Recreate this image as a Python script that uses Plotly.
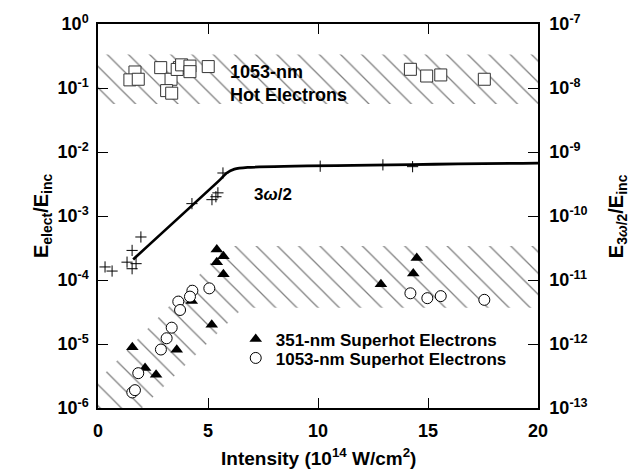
import plotly.graph_objects as go

# ---------------- data ----------------
# 1053-nm hot electrons (open squares)
hot_x = [1.68, 1.45, 1.83, 2.85, 3.32, 3.12, 3.35, 3.70, 3.60, 3.80, 4.18, 4.18, 5.01, 14.2, 14.94, 15.58, 17.56]
hot_y = [0.178, 0.134, 0.137, 0.208, 0.137, 0.091, 0.083, 0.208, 0.195, 0.23, 0.22, 0.18, 0.216, 0.196, 0.154, 0.16, 0.137]

# 3w/2 emission (plus markers)
tw_x = [0.32, 0.64, 1.32, 1.55, 1.73, 1.55, 1.95, 4.27, 5.18, 5.36, 5.45, 5.68, 10.1, 12.95, 14.3]
tw_y = [1.6e-4, 1.38e-4, 1.9e-4, 2.9e-4, 1.8e-4, 1.5e-4, 4.7e-4, 1.56e-3, 1.8e-3, 2.0e-3, 2.3e-3, 4.7e-3, 6.0e-3, 6.3e-3, 5.9e-3]

# 3w/2 trend curve
fit_x = [1.6, 5.55, 5.85, 6.2, 6.8, 20.0]
fit_y = [2.1e-4, 3.7e-3, 4.7e-3, 5.4e-3, 5.75e-3, 6.7e-3]

# 351-nm superhot electrons (filled triangles)
s351_x = [5.40, 5.70, 5.40, 5.70, 4.26, 5.17, 1.56, 3.58, 2.14, 2.64, 14.49, 14.33, 12.86]
s351_y = [3.0e-4, 2.35e-4, 1.9e-4, 1.23e-4, 4.7e-5, 2.0e-5, 8.9e-6, 8.1e-6, 4.2e-6, 3.3e-6, 2.2e-4, 1.26e-4, 8.6e-5]

# 1053-nm superhot electrons (open circles)
s1053_x = [5.06, 4.29, 4.18, 3.65, 3.73, 3.35, 3.12, 2.86, 1.83, 1.56, 1.68, 14.2, 14.97, 15.58, 17.56]
s1053_y = [7.4e-5, 6.8e-5, 5.5e-5, 4.6e-5, 3.4e-5, 1.8e-5, 1.23e-5, 8.2e-6, 3.5e-6, 1.75e-6, 1.9e-6, 6.2e-5, 5.2e-5, 5.6e-5, 4.9e-5]

# hatched bands
hot_band_x = [0, 20, 20, 0, 0]
hot_band_y = [0.056, 0.056, 0.334, 0.334, 0.056]
sh_band_x = [0, 0, 5.86, 20, 20, 6.6, 2.0, 0]
sh_band_y = [1e-6, 2.7e-6, 3.4e-4, 3.4e-4, 3.7e-5, 3.7e-5, 1e-6, 1e-6]

x_ticks = [0, 5, 10, 15, 20]
y_ticks = [1e-6, 1e-5, 1e-4, 1e-3, 1e-2, 1e-1, 1e0]
y_ticktext = ["10<sup>-6</sup>", "10<sup>-5</sup>", "10<sup>-4</sup>", "10<sup>-3</sup>",
              "10<sup>-2</sup>", "10<sup>-1</sup>", "10<sup>0</sup>"]
y2_ticks = [1e-13, 1e-12, 1e-11, 1e-10, 1e-9, 1e-8, 1e-7]
y2_ticktext = ["10<sup>-13</sup>", "10<sup>-12</sup>", "10<sup>-11</sup>", "10<sup>-10</sup>",
               "10<sup>-9</sup>", "10<sup>-8</sup>", "10<sup>-7</sup>"]

FONT = "Liberation Sans, Arial, Helvetica, sans-serif"
pattern = dict(shape="\\", size=15, solidity=0.085, fgcolor="#000000", bgcolor="rgba(255,255,255,0)")


def bold(size):
    return dict(family=FONT, size=size, color="black", weight="bold")


fig = go.Figure()

fig.add_trace(go.Scatter(x=hot_band_x, y=hot_band_y, mode="none", fill="toself",
                         fillcolor="rgba(255,255,255,0)", fillpattern=pattern,
                         showlegend=False, hoverinfo="skip"))
fig.add_trace(go.Scatter(x=sh_band_x, y=sh_band_y, mode="none", fill="toself",
                         fillcolor="rgba(255,255,255,0)", fillpattern=pattern,
                         showlegend=False, hoverinfo="skip"))

fig.add_trace(go.Scatter(x=fit_x, y=fit_y, mode="lines",
                         line=dict(color="black", width=2.7, shape="spline", smoothing=0.5),
                         showlegend=False, hoverinfo="skip"))

fig.add_trace(go.Scatter(x=tw_x, y=tw_y, mode="markers",
                         marker=dict(symbol="cross-thin-open", size=8, color="black",
                                     line=dict(color="black", width=1)),
                         showlegend=False))

fig.add_trace(go.Scatter(x=hot_x, y=hot_y, mode="markers",
                         marker=dict(symbol="square", size=12, color="white",
                                     line=dict(color="#333333", width=1)),
                         showlegend=False))

fig.add_trace(go.Scatter(x=s351_x, y=s351_y, mode="markers", name="351-nm Superhot Electrons",
                         legend="legend",
                         marker=dict(symbol="triangle-up", size=11, color="black",
                                     line=dict(color="black", width=0))))

fig.add_trace(go.Scatter(x=s1053_x, y=s1053_y, mode="markers", name="1053-nm Superhot Electrons",
                         legend="legend2",
                         marker=dict(symbol="circle", size=11, color="white",
                                     line=dict(color="black", width=1))))

# invisible trace to activate the right-hand axis
fig.add_trace(go.Scatter(x=[10], y=[1e-10], yaxis="y2", mode="markers",
                         marker=dict(opacity=0), showlegend=False, hoverinfo="skip"))

axis_common = dict(showline=True, linecolor="black", linewidth=1.5, ticks="inside",
                   ticklen=10, tickwidth=1.2, tickcolor="black", showgrid=False, zeroline=False)

legend_common = dict(xanchor="left", yanchor="middle", bgcolor="rgba(0,0,0,0)",
                     font=bold(17), itemwidth=30)

fig.update_layout(
    width=644, height=472,
    margin=dict(l=98, r=106, t=21, b=64),
    paper_bgcolor="white", plot_bgcolor="white",
    xaxis=dict(range=[0, 20], tickvals=x_ticks, mirror="ticks", tickfont=bold(18),
               ticklabelstandoff=6, **axis_common),
    yaxis=dict(type="log", range=[-6, 0], tickvals=y_ticks, ticktext=y_ticktext,
               mirror=True, tickfont=bold(18), ticklabelstandoff=4, **axis_common),
    yaxis2=dict(type="log", range=[-13, -7], tickvals=y2_ticks, ticktext=y2_ticktext,
                overlaying="y", side="right", tickfont=bold(18), ticklabelstandoff=6,
                **axis_common),
    legend=dict(x=0.313, y=(408 - 339) / 387, **legend_common),
    legend2=dict(x=0.313, y=(408 - 358) / 387, **legend_common),
    showlegend=True,
    annotations=[
        dict(text="1053-nm<br>Hot Electrons", xref="paper", yref="paper", x=0.296, y=0.845,
             xanchor="left", yanchor="middle", align="left", showarrow=False,
             font=bold(18)),
        dict(text="3<i>ω</i>/2", xref="paper", yref="paper", x=0.35, y=0.556,
             xanchor="left", yanchor="middle", showarrow=False,
             font=bold(17)),
        dict(text="E<sub>elect</sub>/E<sub>inc</sub>", xref="paper", yref="paper",
             x=-0.127, y=0.5, xanchor="center", yanchor="middle", textangle=-90, showarrow=False,
             font=bold(20)),
        dict(text="E<sub>3<i>ω</i>/2</sub>/E<sub>inc</sub>", xref="paper", yref="paper",
             x=1.18, y=0.5, xanchor="center", yanchor="middle", textangle=-90, showarrow=False,
             font=bold(20)),
        dict(text="Intensity (10<sup>14</sup> W/cm<sup>2</sup>)", xref="paper", yref="paper",
             x=0.5, y=-0.128, xanchor="center", yanchor="middle", showarrow=False,
             font=bold(19)),
    ],
)

fig.write_html("out.html")
